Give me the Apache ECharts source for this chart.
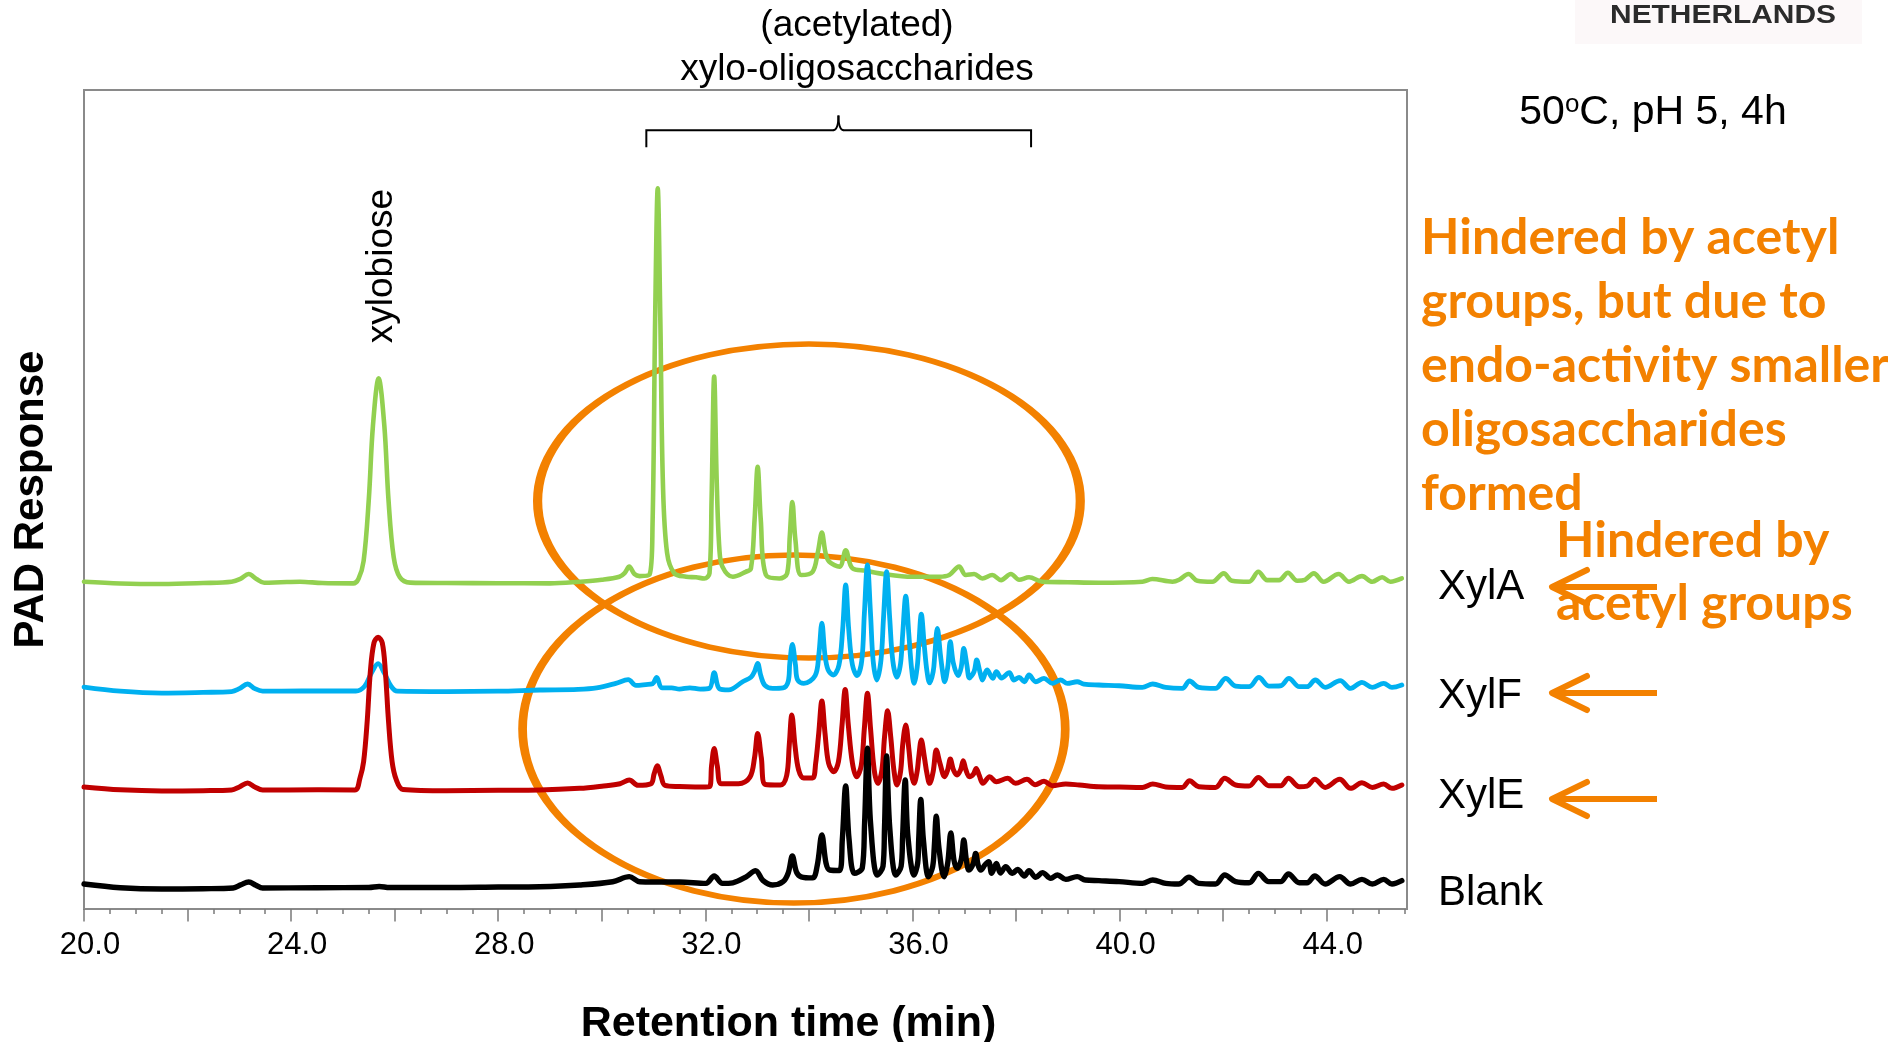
<!DOCTYPE html>
<html>
<head>
<meta charset="utf-8">
<title>HPAEC chromatograms</title>
<script src="https://cdn.jsdelivr.net/npm/echarts@6/dist/echarts.min.js"></script>
<style>
  html, body { margin: 0; padding: 0; background: #ffffff; }
  #chart { width: 1888px; height: 1042px; }
</style>
</head>
<body>
<div id="chart"></div>
<script>
// Retention time (min) and PAD response (a.u., traces stacked with offsets)
const xylA = [
  [20.0, 39.96], [20.7, 39.75], [21.5, 39.68], [22.3, 39.8], [22.85, 39.96], [23.02, 40.3], [23.18, 40.9],
  [23.33, 40.3], [23.48, 39.84], [23.8, 39.9], [24.17, 39.96], [24.6, 39.8], [25.2, 39.76], [25.3, 40.3],
  [25.4, 42.5], [25.5, 50.0], [25.58, 59.0], [25.69, 64.8], [25.8, 59.0], [25.88, 50.0], [25.98, 43.0],
  [26.1, 40.5], [26.3, 39.85], [27.0, 39.8], [28.0, 39.78], [29.0, 39.76], [29.57, 39.96], [30.0, 40.2],
  [30.34, 40.57], [30.44, 41.0], [30.53, 41.8], [30.63, 40.9], [30.73, 40.65], [30.92, 40.8], [30.98, 47.0],
  [31.03, 72.0], [31.08, 88.0], [31.13, 72.0], [31.18, 52.0], [31.26, 43.5], [31.4, 41.0], [31.63, 40.57],
  [31.82, 40.5], [31.98, 40.36], [32.08, 41.0], [32.12, 50.0], [32.17, 65.0], [32.22, 52.0], [32.27, 44.0],
  [32.33, 41.8], [32.53, 40.57], [32.78, 41.17], [32.88, 41.6], [32.95, 47.5], [33.01, 54.0], [33.07, 47.5],
  [33.17, 40.78], [33.43, 40.36], [33.58, 41.0], [33.63, 45.5], [33.68, 49.7], [33.74, 45.0], [33.85, 40.78],
  [34.07, 41.17], [34.17, 43.5], [34.25, 45.95], [34.32, 43.5], [34.39, 42.4], [34.59, 41.8], [34.71, 43.8],
  [34.84, 41.6], [35.1, 41.3], [35.36, 40.98], [36.0, 40.57], [36.52, 40.57], [36.71, 40.78], [36.9, 41.8],
  [37.03, 40.78], [37.19, 40.9], [37.35, 40.36], [37.54, 40.78], [37.71, 40.16], [37.9, 40.9], [38.06, 40.2],
  [38.25, 40.5], [38.51, 39.96], [39.0, 39.9], [39.6, 39.84], [40.44, 39.96], [40.63, 40.3], [41.02, 39.96],
  [41.15, 40.2], [41.33, 40.9], [41.5, 40.08], [41.79, 39.96], [42.01, 40.98], [42.17, 40.08], [42.5, 39.96],
  [42.68, 41.17], [42.85, 40.16], [43.08, 40.16], [43.25, 41.05], [43.43, 40.08], [43.58, 40.2], [43.75, 40.98],
  [43.94, 39.96], [44.23, 40.9], [44.43, 39.96], [44.68, 40.65], [44.88, 39.96], [45.07, 40.5], [45.23, 39.96],
  [45.45, 40.36]
];

const xylF = [
  [20.0, 27.1], [20.7, 26.6], [21.5, 26.37], [22.3, 26.45], [22.85, 26.55], [23.0, 26.9], [23.16, 27.47],
  [23.3, 26.9], [23.45, 26.6], [24.2, 26.62], [25.25, 26.62], [25.42, 27.2], [25.55, 28.8], [25.68, 29.95],
  [25.8, 28.8], [25.93, 27.2], [26.05, 26.6], [27.0, 26.55], [28.0, 26.6], [28.8, 26.74], [29.54, 26.82],
  [29.9, 27.0], [30.27, 27.55], [30.51, 28.0], [30.66, 27.3], [30.85, 27.4], [30.98, 27.5], [31.06, 28.28],
  [31.16, 27.0], [31.35, 27.0], [31.5, 26.85], [31.7, 27.0], [31.9, 26.85], [32.08, 26.95], [32.17, 28.85],
  [32.27, 26.9], [32.45, 26.75], [32.72, 27.75], [32.88, 28.3], [32.95, 29.0], [33.01, 30.0], [33.07, 28.5],
  [33.15, 27.3], [33.3, 26.94], [33.5, 27.0], [33.6, 27.8], [33.63, 30.0], [33.68, 32.3], [33.74, 29.8],
  [33.78, 28.0], [33.9, 27.55], [34.12, 28.5], [34.19, 31.0], [34.25, 34.9], [34.31, 31.0], [34.37, 29.2],
  [34.47, 28.57], [34.58, 29.8], [34.65, 34.0], [34.71, 39.56], [34.77, 34.0], [34.84, 29.8], [34.93, 28.5],
  [35.02, 30.3], [35.07, 36.0], [35.13, 42.0], [35.19, 36.0], [35.24, 30.3], [35.31, 27.96], [35.39, 30.3],
  [35.44, 35.5], [35.5, 41.2], [35.56, 35.5], [35.62, 30.3], [35.7, 28.3], [35.77, 30.0], [35.81, 33.5],
  [35.87, 38.2], [35.93, 33.5], [35.98, 29.5], [36.03, 27.55], [36.09, 29.5], [36.12, 32.0], [36.17, 36.0],
  [36.23, 32.0], [36.28, 29.0], [36.33, 27.6], [36.4, 29.0], [36.43, 31.0], [36.48, 34.26], [36.54, 31.0],
  [36.58, 29.0], [36.62, 27.75], [36.68, 29.5], [36.73, 32.63], [36.79, 30.0], [36.88, 28.5], [36.94, 29.5],
  [36.99, 31.82], [37.05, 29.8], [37.1, 28.2], [37.19, 29.0], [37.24, 30.4], [37.3, 29.0], [37.35, 27.96],
  [37.44, 29.18], [37.55, 28.16], [37.62, 28.97], [37.72, 28.2], [37.87, 28.85], [37.96, 27.96], [38.06, 28.28],
  [38.16, 27.75], [38.25, 28.57], [38.38, 27.75], [38.54, 28.16], [38.7, 27.55], [38.86, 27.96], [38.99, 27.55],
  [39.18, 27.75], [39.31, 27.47], [39.6, 27.35], [39.99, 27.26], [40.44, 27.06], [40.64, 27.47], [40.89, 27.06],
  [41.21, 26.93], [41.35, 27.84], [41.53, 27.06], [41.85, 26.93], [42.05, 28.16], [42.24, 27.22], [42.5, 27.14],
  [42.69, 28.28], [42.88, 27.22], [43.11, 27.26], [43.27, 28.16], [43.47, 27.14], [43.62, 27.14], [43.78, 27.96],
  [43.97, 27.06], [44.26, 27.88], [44.46, 26.93], [44.68, 27.68], [44.88, 27.06], [45.1, 27.55], [45.26, 27.06],
  [45.45, 27.35]
];

const xylE = [
  [20.0, 14.9], [20.7, 14.55], [21.5, 14.41], [22.3, 14.45], [22.85, 14.53], [23.0, 14.9], [23.16, 15.38],
  [23.3, 14.9], [23.45, 14.53], [24.5, 14.55], [25.23, 14.53], [25.33, 16.0], [25.4, 18.0], [25.47, 23.0],
  [25.53, 29.0], [25.6, 32.5], [25.68, 33.17], [25.76, 32.5], [25.82, 29.0], [25.88, 23.0], [25.95, 18.0],
  [26.03, 15.8], [26.16, 14.6], [27.0, 14.45], [28.0, 14.5], [28.8, 14.53], [29.57, 14.73], [30.0, 15.0],
  [30.35, 15.3], [30.53, 15.75], [30.7, 15.1], [30.95, 15.3], [31.01, 16.5], [31.07, 17.5], [31.14, 16.3],
  [31.22, 15.1], [31.5, 14.95], [31.8, 14.9], [32.08, 14.95], [32.12, 17.5], [32.17, 19.6], [32.23, 17.5],
  [32.31, 15.3], [32.64, 15.3], [32.86, 16.1], [32.95, 18.5], [33.01, 21.44], [33.08, 18.5], [33.16, 15.2],
  [33.45, 15.14], [33.57, 16.3], [33.62, 20.0], [33.67, 23.7], [33.73, 20.0], [33.8, 17.0], [33.9, 16.0],
  [34.07, 16.0], [34.13, 17.8], [34.19, 21.5], [34.25, 25.4], [34.31, 21.5], [34.38, 17.8], [34.48, 16.76],
  [34.57, 18.0], [34.64, 22.5], [34.7, 26.81], [34.76, 22.5], [34.84, 17.8], [34.92, 16.15], [35.01, 17.5],
  [35.07, 22.0], [35.13, 26.33], [35.19, 22.0], [35.26, 17.0], [35.33, 15.34], [35.41, 17.0], [35.46, 21.0],
  [35.52, 24.2], [35.58, 21.0], [35.64, 17.0], [35.7, 15.14], [35.77, 16.8], [35.81, 20.0], [35.87, 22.47],
  [35.93, 19.5], [35.98, 16.5], [36.03, 15.34], [36.09, 16.8], [36.12, 18.5], [36.17, 20.64], [36.23, 18.5],
  [36.28, 16.5], [36.33, 15.34], [36.4, 16.8], [36.46, 19.41], [36.53, 17.8], [36.62, 16.15], [36.68, 17.0],
  [36.73, 18.3], [36.79, 17.0], [36.86, 16.36], [36.93, 17.0], [36.98, 18.1], [37.03, 17.0], [37.1, 16.15],
  [37.18, 16.5], [37.23, 17.17], [37.29, 16.3], [37.36, 15.34], [37.49, 16.15], [37.62, 15.54], [37.84, 15.95],
  [37.99, 15.34], [38.21, 15.83], [38.37, 15.18], [38.54, 15.6], [38.7, 15.06], [38.96, 15.26], [39.22, 15.14],
  [39.6, 14.93], [40.0, 14.9], [40.44, 14.85], [40.64, 15.26], [40.89, 14.9], [41.21, 14.85], [41.35, 15.65],
  [41.53, 14.93], [41.85, 14.85], [42.03, 15.95], [42.24, 15.14], [42.5, 15.01], [42.68, 16.07], [42.88, 15.06],
  [43.11, 15.06], [43.26, 15.95], [43.47, 14.93], [43.62, 15.0], [43.77, 15.83], [43.97, 14.85], [44.25, 15.83],
  [44.46, 14.73], [44.68, 15.42], [44.88, 14.85], [45.1, 15.26], [45.26, 14.73], [45.45, 15.14]
];

const blank = [
  [20.0, 3.05], [20.7, 2.6], [21.5, 2.44], [22.3, 2.48], [22.88, 2.56], [23.03, 2.95], [23.18, 3.3],
  [23.32, 2.9], [23.45, 2.56], [24.5, 2.6], [25.5, 2.62], [25.7, 2.75], [25.9, 2.62], [27.0, 2.62],
  [28.0, 2.68], [28.8, 2.72], [29.57, 2.93], [30.21, 3.33], [30.53, 3.95], [30.73, 3.33], [31.0, 3.3],
  [31.5, 3.3], [32.01, 3.13], [32.17, 4.03], [32.33, 3.13], [32.53, 3.2], [32.78, 3.9], [32.97, 4.68],
  [33.11, 3.5], [33.3, 2.93], [33.5, 3.33], [33.6, 4.4], [33.68, 6.47], [33.76, 4.5], [33.85, 3.93],
  [34.07, 3.8], [34.16, 5.3], [34.25, 9.04], [34.33, 5.6], [34.4, 4.76], [34.59, 4.7], [34.645, 8.5],
  [34.71, 15.02], [34.775, 8.5], [34.88, 4.35], [35.03, 5.0], [35.075, 10.5], [35.13, 19.62], [35.19, 10.5],
  [35.32, 4.15], [35.43, 5.2], [35.46, 10.0], [35.5, 18.68], [35.56, 10.0], [35.68, 4.15], [35.78, 5.2],
  [35.81, 9.0], [35.86, 15.75], [35.91, 9.0], [36.03, 4.15], [36.1, 5.6], [36.12, 8.5], [36.16, 13.38],
  [36.21, 8.5], [36.31, 3.94], [36.39, 5.2], [36.42, 7.5], [36.46, 11.34], [36.51, 7.5], [36.61, 3.94],
  [36.68, 5.6], [36.74, 9.3], [36.8, 6.0], [36.86, 4.96], [36.94, 6.0], [36.99, 8.42], [37.04, 6.0],
  [37.09, 4.76], [37.17, 5.5], [37.22, 6.79], [37.27, 5.3], [37.32, 4.76], [37.4, 5.4], [37.47, 5.77],
  [37.53, 4.35], [37.62, 5.57], [37.7, 4.4], [37.8, 5.16], [37.93, 4.35], [38.03, 4.84], [38.16, 4.03],
  [38.25, 4.68], [38.38, 3.87], [38.51, 4.44], [38.67, 3.74], [38.8, 4.15], [38.96, 3.62], [39.18, 3.95],
  [39.34, 3.54], [39.6, 3.46], [39.99, 3.34], [40.44, 3.13], [40.64, 3.54], [40.89, 3.13], [41.14, 3.05],
  [41.34, 3.87], [41.53, 3.13], [41.85, 3.05], [42.03, 4.15], [42.24, 3.34], [42.5, 3.2], [42.68, 4.35],
  [42.88, 3.34], [43.11, 3.34], [43.26, 4.27], [43.47, 3.2], [43.62, 3.2], [43.77, 4.03], [43.97, 3.05],
  [44.25, 3.95], [44.46, 3.05], [44.68, 3.62], [44.88, 3.05], [45.1, 3.62], [45.26, 3.05], [45.45, 3.46]
];

const traceNames = ['XylA', 'XylF', 'XylE', 'Blank'];

// x axis ticks: minor every 0.5 min, major every 2 min, labelled every 4 min
const minorTickValues = [
  20, 20.5, 21, 21.5, 22, 22.5, 23, 23.5, 24, 24.5, 25, 25.5, 26, 26.5, 27, 27.5, 28, 28.5, 29, 29.5,
  30, 30.5, 31, 31.5, 32, 32.5, 33, 33.5, 34, 34.5, 35, 35.5, 36, 36.5, 37, 37.5, 38, 38.5, 39, 39.5,
  40, 40.5, 41, 41.5, 42, 42.5, 43, 43.5, 44, 44.5, 45, 45.5
];
const majorTickValues = [20, 22, 24, 26, 28, 30, 32, 34, 36, 38, 40, 42, 44];
const tickLabelValues = [20, 24, 28, 32, 36, 40, 44];

const SANS = '"Liberation Sans", Arial, sans-serif';
const NOTE = 'Lato, "Open Sans", sans-serif';
const ORANGE = '#F38100';
const AXIS_GREY = '#8a8a8a';

const traceStyles = [
  { color: '#92D050', width: 4.6 },
  { color: '#00B0F0', width: 4.8 },
  { color: '#C00000', width: 5 },
  { color: '#000000', width: 5.4 }
];
const traceData = [xylA, xylF, xylE, blank];

const chart = echarts.init(document.getElementById('chart'), null, { renderer: 'canvas' });

chart.setOption({
  animation: false,
  backgroundColor: '#ffffff',
  grid: {
    left: 84, right: 481, top: 90, bottom: 133,
    show: true, borderColor: AXIS_GREY, borderWidth: 2,
    outerBoundsMode: 'none'
  },
  xAxis: [
    {
      type: 'value', min: 20, max: 45.55, position: 'bottom',
      axisLine: { show: true, onZero: false, lineStyle: { color: AXIS_GREY, width: 2 } },
      axisTick: { show: true, length: 5, customValues: minorTickValues, lineStyle: { color: '#7a7a7a', width: 1.5 } },
      axisLabel: { show: false },
      splitLine: { show: false },
      name: 'Retention time (min)',
      nameLocation: 'middle',
      nameGap: 94,
      nameTextStyle: { fontFamily: SANS, fontSize: 43, fontWeight: 'bold', color: '#000', padding: [0, 0, 0, 86] }
    },
    {
      type: 'value', min: 20, max: 45.55, position: 'bottom',
      axisLine: { show: false },
      axisTick: { show: true, length: 12.5, customValues: majorTickValues, lineStyle: { color: '#7a7a7a', width: 1.5 } },
      axisLabel: {
        show: true, customValues: tickLabelValues,
        formatter: (v) => Number(v).toFixed(1),
        margin: 21, fontFamily: SANS, fontSize: 31, color: '#000',
        padding: [0, 0, 0, 12]
      },
      splitLine: { show: false }
    }
  ],
  yAxis: {
    type: 'value', min: 0, max: 100,
    axisLine: { show: true, lineStyle: { color: AXIS_GREY, width: 2 } },
    axisTick: { show: false },
    axisLabel: { show: false },
    splitLine: { show: false },
    name: 'PAD Response',
    nameLocation: 'middle',
    nameGap: 32,
    nameTextStyle: { fontFamily: SANS, fontSize: 42, fontWeight: 'bold', color: '#000' }
  },
  series: traceNames.map((name, i) => ({
    type: 'line',
    name: name,
    data: traceData[i],
    xAxisIndex: 0,
    yAxisIndex: 0,
    showSymbol: false,
    symbol: 'none',
    smooth: 0.35,
    z: 3 + i,
    lineStyle: { color: traceStyles[i].color, width: traceStyles[i].width, cap: 'round', join: 'round' },
    itemStyle: { color: traceStyles[i].color }
  }))
});

// Annotations anchored to the data coordinate system
const toPx = (t, v) => chart.convertToPixel({ xAxisIndex: 0, yAxisIndex: 0 }, [t, v]);
const pxPerMin = toPx(21, 0)[0] - toPx(20, 0)[0];
const pxPerUnit = toPx(20, 0)[1] - toPx(20, 1)[1];

function ellipseAround(tc, vc, rMin, rUnits) {
  const c = toPx(tc, vc);
  const rx = rMin * pxPerMin, ry = rUnits * pxPerUnit;
  // unit circle stretched to the ellipse, stroke width kept unscaled
  return {
    type: 'circle', z: 1,
    x: c[0], y: c[1], scaleX: rx / 100, scaleY: ry / 100,
    shape: { cx: 0, cy: 0, r: 100 },
    style: { fill: 'none', stroke: ORANGE, lineWidth: 7, strokeNoScale: true }
  };
}

function bracket(t0, t1, tMid, vLine, vEnd, vTip) {
  const a = toPx(t0, vEnd), b = toPx(t1, vEnd), m = toPx(tMid, vTip);
  const yl = toPx(t0, vLine)[1];
  const st = { fill: 'none', stroke: '#000', lineWidth: 2 };
  return [
    { type: 'polyline', z: 10, shape: { points: [[a[0], a[1]], [a[0], yl], [m[0] - 5, yl]] }, style: st },
    { type: 'polyline', z: 10, shape: { points: [[m[0] + 5, yl], [b[0], yl], [b[0], b[1]]] }, style: st },
    { type: 'bezierCurve', z: 10, shape: { x1: m[0] - 5.5, y1: yl, cpx1: m[0], cpy1: yl, x2: m[0], y2: m[1] }, style: st },
    { type: 'bezierCurve', z: 10, shape: { x1: m[0] + 5.5, y1: yl, cpx1: m[0], cpy1: yl, x2: m[0], y2: m[1] }, style: st }
  ];
}

function text(x, y, str, font, extra) {
  return Object.assign({
    type: 'text', x: x, y: y, z: 10,
    style: Object.assign({
      text: str, fill: '#000',
      fontFamily: font.family, fontSize: font.size, fontWeight: font.weight || 'normal',
      align: 'left', verticalAlign: 'middle'
    }, extra && extra.style)
  }, extra && extra.el);
}

function arrow(xTip, xTail, y) {
  return [
    {
      type: 'polyline', z: 10,
      shape: { points: [[xTail, y], [xTip + 2, y]] },
      style: { stroke: ORANGE, lineWidth: 6, fill: 'none', lineCap: 'butt' }
    },
    {
      type: 'polyline', z: 10,
      shape: { points: [[xTip + 35, y - 17], [xTip, y], [xTip + 35, y + 17]] },
      style: { stroke: ORANGE, lineWidth: 6, fill: 'none', lineCap: 'round', lineJoin: 'round' }
    }
  ];
}

const peak = toPx(25.69, 78.5);

const elements = [
  // institute logo strip
  { type: 'rect', z: 0, shape: { x: 1575, y: 0, width: 287, height: 44 }, style: { fill: '#fcf8f9' } },
  text(1723, 16, 'NETHERLANDS', { family: SANS, size: 26, weight: 'bold' },
    { style: { fill: '#2b2b2b', align: 'center' }, el: { scaleX: 1.15 } }),

  // oligosaccharide region caption
  text(857, 26, '(acetylated)', { family: SANS, size: 37 }, { style: { align: 'center' } }),
  text(857, 70, 'xylo-oligosaccharides', { family: SANS, size: 37 }, { style: { align: 'center' } }),

  // peak label
  text(peak[0] + 3, peak[1], 'xylobiose', { family: SANS, size: 37 },
    { style: { align: 'center' }, el: { rotation: Math.PI / 2 } }),

  // highlighted regions
  ellipseAround(34.0, 49.82, 5.24, 19.17),
  ellipseAround(33.71, 21.98, 5.24, 21.25),

  // conditions
  text(1653, 112.8, '50{sup|o}C, pH 5, 4h', { family: SANS, size: 41 },
    { style: { align: 'center', rich: { sup: { fontSize: 26, fontFamily: SANS, verticalAlign: 'top', fill: '#000' } } } }),

  // remarks
  text(1421, 206, 'Hindered by acetyl\ngroups, but due to\nendo-activity smaller\noligosaccharides\nformed',
    { family: NOTE, size: 50, weight: 'bold' },
    { style: { fill: ORANGE, verticalAlign: 'top', lineHeight: 64 } }),
  text(1556, 509, 'Hindered by\nacetyl groups',
    { family: NOTE, size: 50, weight: 'bold' },
    { style: { fill: ORANGE, verticalAlign: 'top', lineHeight: 63 } }),

  // trace names
  text(1438, 587.4, 'XylA', { family: SANS, size: 42 }),
  text(1438, 696.4, 'XylF', { family: SANS, size: 42 }),
  text(1438, 796.4, 'XylE', { family: SANS, size: 42 }),
  text(1438, 893.4, 'Blank', { family: SANS, size: 42 })
]
  .concat(bracket(30.86, 38.29, 34.57, 95.1, 93.0, 96.9))
  .concat(arrow(1552, 1657, 587))
  .concat(arrow(1552, 1657, 693))
  .concat(arrow(1552, 1657, 799));

chart.setOption({ graphic: { elements: elements } });
</script>
</body>
</html>
